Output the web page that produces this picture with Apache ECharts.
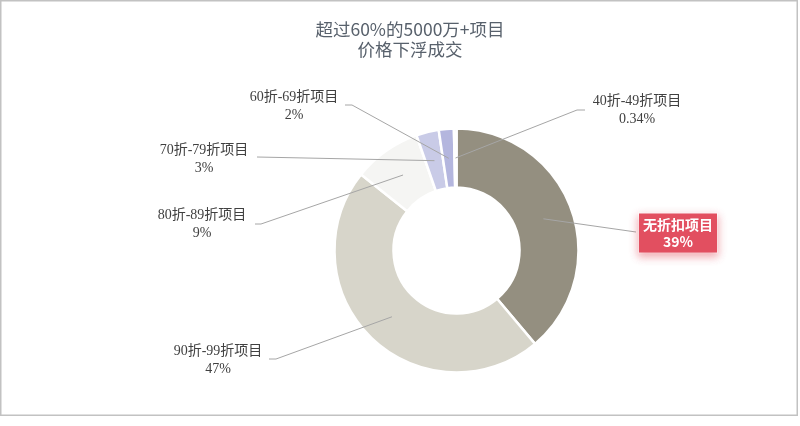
<!DOCTYPE html>
<html><head><meta charset="utf-8">
<script src="https://cdn.jsdelivr.net/npm/echarts@6/dist/echarts.min.js"></script>
<style>html,body{margin:0;padding:0;background:#fff;} #chart{width:800px;height:426px;}</style>
</head><body><div id="chart"></div>
<script>
// ---- data ----
const titleLines = ['超过60%的5000万+项目', '价格下浮成交'];
const categories = ['无折扣项目', '90折-99折项目', '80折-89折项目', '70折-79折项目', '60折-69折项目', '40折-49折项目'];
const shares = [39, 47, 9, 3, 2, 0.34];
const highlighted = ['无折扣项目'];

// ---- styles / layout ----
const sliceColors = ['#948f80', '#d7d5ca', '#f5f5f3', '#c9cbe7', '#b4b6de', '#a3a6d6'];
const pieCenter = [456.5, 250.5];
const pieRadius = [63, 122];
// label box centre [x, y], leader end at label [x, y], elbow x
const labelSpots = [
  [678, 233, 636, 232, 636],
  [218, 360, 269, 359, 276],
  [202, 224, 255, 224, 261],
  [204, 159, 257, 157, 257],
  [294, 106, 345, 105, 352],
  [637, 110, 585, 110, 577]
];

const total = shares.reduce((a, b) => a + b, 0);
function sliceAnchor(i) {
  let before = 0;
  for (let k = 0; k < i; k++) before += shares[k];
  const f = (before + shares[i] / 2) / total;
  const th = f * Math.PI * 2;
  const r = (pieRadius[0] + pieRadius[1]) / 2;
  return [pieCenter[0] + r * Math.sin(th), pieCenter[1] - r * Math.cos(th)];
}

const serifFont = '"Liberation Serif", "Noto Sans CJK SC", serif';
const sansFont = '"Noto Sans CJK SC", "Noto Sans", sans-serif';

const sliceData = categories.map((name, i) => ({
  name: name, value: shares[i], itemStyle: { color: sliceColors[i] }
}));

const labelData = categories.map((name, i) => {
  const item = { name: name, value: shares[i] };
  if (highlighted.indexOf(name) >= 0) {
    item.label = {
      color: '#ffffff',
      fontFamily: sansFont,
      fontWeight: 'bold',
      fontSize: 14,
      lineHeight: 17,
      backgroundColor: '#e24f60',
      borderColor: '#ffffff',
      borderWidth: 1,
      padding: [3, 4, 2, 4],
      shadowBlur: 8,
      shadowColor: 'rgba(226,79,96,0.45)',
      shadowOffsetY: 3
    };
  }
  return item;
});

const chart = echarts.init(document.getElementById('chart'));
chart.setOption({
  backgroundColor: '#ffffff',
  animation: false,
  title: {
    text: titleLines.join('\n'),
    left: 410,
    top: 19,
    textAlign: 'center',
    padding: 0,
    textStyle: {
      fontFamily: sansFont,
      fontSize: 17.5,
      fontWeight: 'normal',
      color: '#58616c',
      lineHeight: 20
    }
  },
  graphic: [{
    type: 'rect',
    shape: { x: 0.75, y: 0.75, width: 796.5, height: 414.5 },
    style: { fill: 'none', stroke: '#c2c2c2', lineWidth: 1.5 },
    silent: true,
    z: -10
  }],
  series: [{
    type: 'pie',
    z: 2,
    center: pieCenter,
    radius: pieRadius,
    startAngle: 90,
    clockwise: true,
    itemStyle: { borderColor: '#ffffff', borderWidth: 2.5 },
    label: { show: false },
    labelLine: { show: false },
    emphasis: { disabled: true },
    silent: true,
    data: sliceData
  }, {
    type: 'pie',
    z: 5,
    center: pieCenter,
    radius: pieRadius,
    startAngle: 90,
    clockwise: true,
    avoidLabelOverlap: false,
    silent: true,
    itemStyle: { color: 'rgba(0,0,0,0)', borderWidth: 0 },
    label: {
      show: true,
      position: 'outside',
      formatter: '{b}\n{c}%',
      fontFamily: serifFont,
      fontSize: 14,
      lineHeight: 18,
      color: '#404040',
      align: 'center'
    },
    labelLine: {
      show: true,
      showAbove: true,
      length: 10,
      length2: 10,
      lineStyle: { color: '#a6a6a6', width: 1 }
    },
    labelLayout: function (params) {
      const i = params.dataIndex;
      const s = labelSpots[i];
      const a = sliceAnchor(i);
      return {
        x: s[0],
        y: s[1],
        align: 'center',
        verticalAlign: 'middle',
        labelLinePoints: [a, [s[4], s[3]], [s[2], s[3]]]
      };
    },
    emphasis: { disabled: true },
    data: labelData
  }]
});
</script>
</body></html>
